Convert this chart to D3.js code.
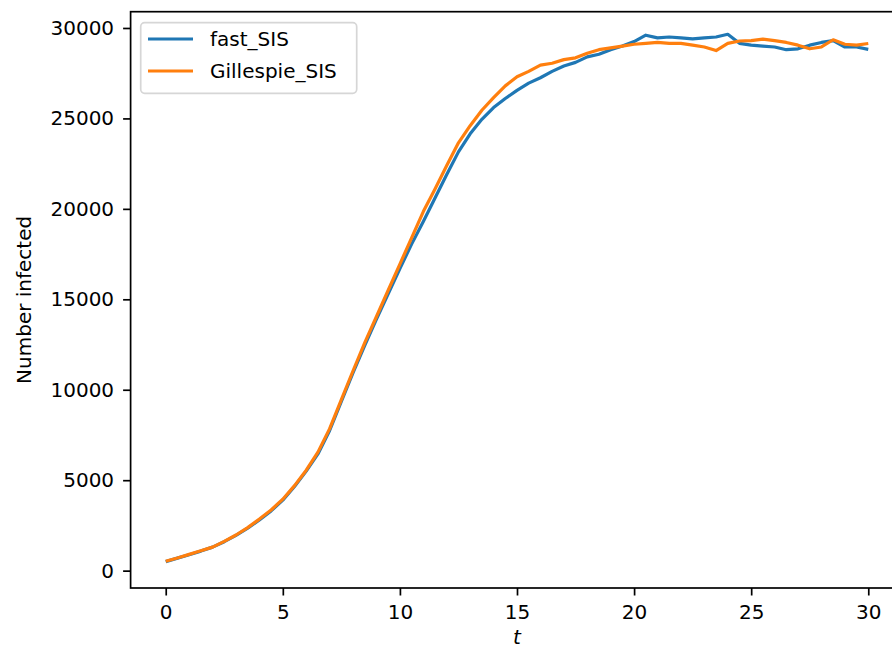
<!DOCTYPE html>
<meta charset="utf-8">
<script src="https://d3js.org/d3.v7.min.js"></script>
<style>
  body { margin: 0; background: #fff; }
  text { font-family: "DejaVu Sans", sans-serif; }
</style>
<div id="chart"></div>
<script>
// time points (t) and number infected for each simulation
var tVals = [0, 0.5, 1, 1.5, 2, 2.5, 3, 3.5, 4, 4.5, 5, 5.5, 6, 6.5, 7, 7.5, 8, 8.5, 9, 9.5,
  10, 10.5, 11, 11.5, 12, 12.5, 13, 13.5, 14, 14.5, 15, 15.5, 16, 16.5, 17, 17.5, 18, 18.5, 19, 19.5,
  20, 20.5, 21, 21.5, 22, 22.5, 23, 23.5, 24, 24.5, 25, 25.5, 26, 26.5, 27, 27.5, 28, 28.5, 29, 29.5, 30];

var fastSIS = [500, 690, 880, 1080, 1300, 1600, 1950, 2350, 2800, 3300, 3900, 4650, 5500, 6450, 7750, 9350, 10950, 12450, 13900, 15300,
  16700, 18050, 19300, 20600, 21900, 23150, 24150, 24950, 25600, 26100, 26550, 26950, 27250, 27600, 27900, 28100, 28400, 28550, 28800, 29000,
  29250, 29600, 29450, 29500, 29450, 29400, 29450, 29500, 29650, 29150, 29050, 29000, 28950, 28800, 28850, 29050, 29200, 29300, 28950, 28950, 28820];

var gillespieSIS = [520, 700, 900, 1100, 1300, 1620, 1970, 2380, 2850, 3350, 3950, 4700, 5550, 6550, 7850, 9450, 11050, 12600, 14050, 15500,
  16950, 18400, 19850, 21100, 22400, 23650, 24600, 25450, 26150, 26800, 27300, 27600, 27950, 28050, 28250, 28350, 28600, 28800, 28900, 29000,
  29100, 29150, 29200, 29150, 29150, 29050, 28950, 28750, 29150, 29280, 29300, 29380, 29300, 29200, 29050, 28850, 28950, 29350, 29100, 29050, 29140];

var seriesNames = ["fast_SIS", "Gillespie_SIS"];
var seriesColors = ["#1f77b4", "#ff7f0e"];
var xTicks = [0, 5, 10, 15, 20, 25, 30];
var yTicks = [0, 5000, 10000, 15000, 20000, 25000, 30000];

var width = 892, height = 649;
var plot = {left: 130.6, right: 903.4, top: 11.7, bottom: 588};

var svg = d3.select("#chart")
  .append("svg")
    .attr("width", width)
    .attr("height", height);

var x = d3.scaleLinear().domain([-1.5, 31.5]).range([plot.left, plot.right]);
var y = d3.scaleLinear().domain([-960, 30900]).range([plot.bottom, plot.top]);

// series lines
var line = d3.line()
  .x(function(d) { return x(d[0]); })
  .y(function(d) { return y(d[1]); });

var series = [fastSIS, gillespieSIS];
series.forEach(function(vals, i) {
  svg.append("path")
    .datum(tVals.map(function(t, j) { return [t, vals[j]]; }))
    .attr("fill", "none")
    .attr("stroke", seriesColors[i])
    .attr("stroke-width", 3.2)
    .attr("stroke-linejoin", "round")
    .attr("d", line);
});

// axes
var xAxis = svg.append("g")
  .attr("transform", "translate(0," + plot.bottom + ")")
  .call(d3.axisBottom(x).tickValues(xTicks).tickSize(7.5).tickPadding(9).tickSizeOuter(0));
var yAxis = svg.append("g")
  .attr("transform", "translate(" + plot.left + ",0)")
  .call(d3.axisLeft(y).tickValues(yTicks).tickFormat(d3.format("d")).tickSize(7.5).tickPadding(9).tickSizeOuter(0));

[xAxis, yAxis].forEach(function(g) {
  g.select(".domain").remove();
  g.selectAll(".tick line").attr("stroke", "#000").attr("stroke-width", 1.7);
  g.selectAll(".tick text")
    .attr("fill", "#000")
    .style("font-size", "20px")
    .style("font-family", "DejaVu Sans");
});

// frame
svg.append("rect")
  .attr("x", plot.left)
  .attr("y", plot.top)
  .attr("width", plot.right - plot.left)
  .attr("height", plot.bottom - plot.top)
  .attr("fill", "none")
  .attr("stroke", "#000")
  .attr("stroke-width", 1.7);

// axis labels
svg.append("text")
  .attr("x", (plot.left + plot.right) / 2)
  .attr("y", 644)
  .attr("text-anchor", "middle")
  .style("font-size", "20px")
  .style("font-style", "italic")
  .text("t");

svg.append("text")
  .attr("transform", "translate(31," + (plot.top + plot.bottom) / 2 + ") rotate(-90)")
  .attr("text-anchor", "middle")
  .style("font-size", "20px")
  .text("Number infected");

// legend
var legend = svg.append("g");
legend.append("rect")
  .attr("x", 140.7)
  .attr("y", 22.7)
  .attr("width", 216)
  .attr("height", 70.6)
  .attr("rx", 4)
  .attr("fill", "#fff")
  .attr("fill-opacity", 0.8)
  .attr("stroke", "#d6d6d6")
  .attr("stroke-width", 1.7);

seriesNames.forEach(function(name, i) {
  var ly = 39 + i * 32;
  legend.append("line")
    .attr("x1", 148).attr("x2", 193)
    .attr("y1", ly).attr("y2", ly)
    .attr("stroke", seriesColors[i])
    .attr("stroke-width", 3.2);
  legend.append("text")
    .attr("x", 210)
    .attr("y", ly)
    .attr("dy", "0.36em")
    .style("font-size", "20px")
    .text(name);
});
</script>
